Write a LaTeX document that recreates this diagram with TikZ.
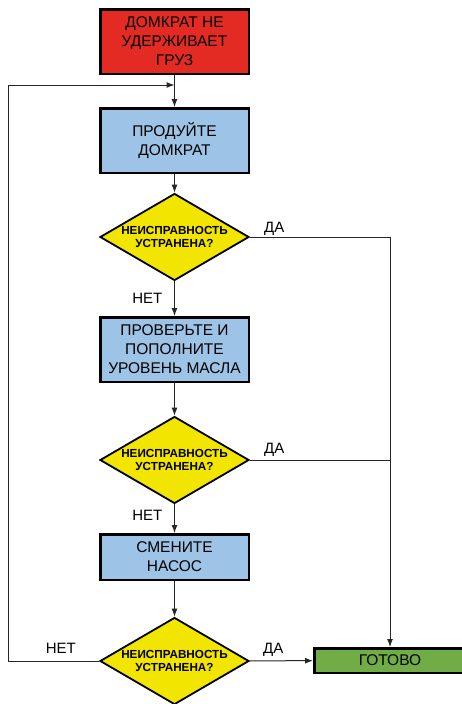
\documentclass[tikz,border=0pt]{standalone}
\usepackage{fontspec}
\setmainfont{Liberation Sans}
\usetikzlibrary{arrows.meta,positioning,shapes.geometric}

\definecolor{stopred}{HTML}{E32B24}
\definecolor{stepblue}{HTML}{9DC3E6}
\definecolor{askyellow}{HTML}{F2E500}
\definecolor{donegreen}{HTML}{70AD47}

\tikzset{
  box/.style={draw=black, line width=2.5pt, minimum width=148.5pt, align=center,
    font=\fontsize{15.5}{19}\selectfont, inner sep=0pt},
  ask/.style={diamond, draw=black, line width=1.8pt, fill=askyellow, aspect=1.7,
    minimum width=149pt, minimum height=87pt, inner sep=0pt, align=center,
    font=\fontsize{11.7}{13}\selectfont\bfseries},
  flow/.style={draw=black!85, line width=1pt},
  go/.style={flow, -{Latex[length=8pt,width=6pt]}},
  lbl/.style={font=\fontsize{15}{17}\selectfont, inner sep=0pt},
}

\begin{document}
\begin{tikzpicture}[x=1pt, y=-1pt]
\useasboundingbox[fill=white] (0,0) rectangle (461,704);
% boxes and questions
\node[box, fill=stopred, minimum height=64.5pt]   (jack)   at (174.5,41.5)  {ДОМКРАТ НЕ\\УДЕРЖИВАЕТ\\ГРУЗ};
\node[box, fill=stepblue, minimum height=64.5pt]  (bleed)  at (174.5,140.5) {ПРОДУЙТЕ\\ДОМКРАТ};
\node[ask]                                         (askA)   at (174.5,237)   {НЕИСПРАВНОСТЬ\\УСТРАНЕНА?};
\node[box, fill=stepblue, minimum height=64.5pt]  (oil)    at (174.5,349.5) {ПРОВЕРЬТЕ И\\ПОПОЛНИТЕ\\УРОВЕНЬ МАСЛА};
\node[ask]                                         (askB)   at (174.5,460)   {НЕИСПРАВНОСТЬ\\УСТРАНЕНА?};
\node[box, fill=stepblue, minimum height=45.5pt]  (pump)   at (174.5,557)   {СМЕНИТЕ\\НАСОС};
\node[ask]                                         (askC)   at (174.5,661)   {НЕИСПРАВНОСТЬ\\УСТРАНЕНА?};
\node[box, fill=donegreen, minimum width=151.5pt, minimum height=24.5pt] (done) at (390,660.5) {ГОТОВО};
\coordinate (loop) at (8.5,85);

% connectors
\draw[go] (jack) -- (bleed);
\draw[go] (bleed) -- (askA);
\draw[go] (askA) -- (oil);
\draw[go] (oil) -- (askB);
\draw[go] (askB) -- (pump);
\draw[go] (pump) -- (askC);
\draw[go] (askC) -- (done);
\draw[go] (askA.east) -| (done.north);
\draw[flow] (askB.east) -- (askB.east -| done.north);
\draw[go] (askC.west) -| (loop) -- (loop -| jack.south);

% answers
\node[lbl, anchor=base west] (yesA) at ([shift={(14pt,5pt)}]askA.east) {ДА};
\node[lbl, anchor=base west] (yesB) at ([shift={(14pt,7pt)}]askB.east) {ДА};
\node[lbl, anchor=base west] (yesC) at ([shift={(13pt,8pt)}]askC.east) {ДА};
\node[lbl, anchor=base east] (noA)  at ([shift={(-12pt,13pt)}]oil.north)  {НЕТ};
\node[lbl, anchor=base east] (noB)  at ([shift={(-12pt,13pt)}]pump.north) {НЕТ};
\node[lbl, anchor=base east] (noC)  at ([shift={(-23pt,8pt)}]askC.west)  {НЕТ};
\end{tikzpicture}
\end{document}
